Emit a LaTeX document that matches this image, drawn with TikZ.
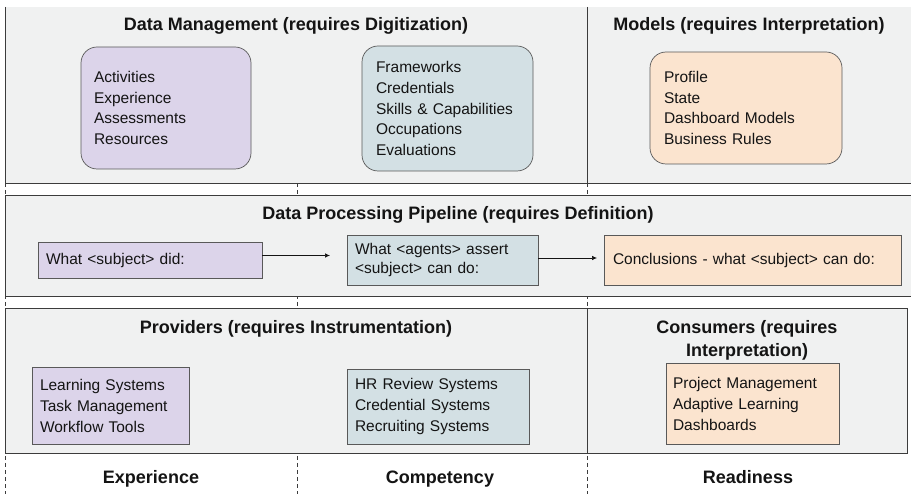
\documentclass[tikz,border=0pt]{standalone}
\usepackage{fontspec}
\setmainfont{Liberation Sans}
\usetikzlibrary{arrows.meta}

\definecolor{bandgray}{RGB}{240,241,241}
\definecolor{lilac}{RGB}{220,212,234}
\definecolor{steel}{RGB}{211,224,228}
\definecolor{peach}{RGB}{251,228,207}
\definecolor{rule}{RGB}{60,60,60}
\definecolor{ink}{RGB}{20,20,20}

\tikzset{
  band/.style={fill=bandgray, draw=none},
  bandline/.style={draw=rule, line width=0.9pt},
  guide/.style={draw=rule, line width=0.7pt, dash pattern=on 4pt off 3pt},
  title/.style={font=\fontsize{18}{23}\selectfont\bfseries, text=ink, align=center, inner sep=0pt},
  item/.style={draw=rule!85, line width=0.7pt, text=ink, align=left,
    font=\fontsize{15.5}{20.7}\selectfont, inner ysep=0pt},
  roundbox/.style={item, rounded corners=16pt},
  arr/.style={draw=ink, line width=0.7pt, -{Latex[length=5pt,width=4.5pt]}},
}

\begin{document}
\begin{tikzpicture}[x=1pt, y=-1pt]
\useasboundingbox (0,0) rectangle (911,494);
\fill[white] (0,0) rectangle (911,494);

% column guides (visible between the bands)
\draw[guide] (5,183) -- (5,494);
\draw[guide] (297,183) -- (297,494);
\draw[guide] (587,183) -- (587,494);

% top band: data management and models
\fill[band] (5,7) rectangle (911,183);
\draw[bandline] (5,7) -- (5,183) -- (911,183);
\draw[bandline] (587,7) -- (587,183);

% middle band: pipeline
\fill[band] (5,195) rectangle (911,296);
\draw[bandline] (911,195) -- (5,195) -- (5,296) -- (911,296);

% bottom band: providers and consumers
\fill[band] (5,308) rectangle (907,453);
\draw[bandline] (5,308) rectangle (907,453);
\draw[bandline] (587,308) -- (587,453);

% band titles
\node[title, anchor=base] (tdm) at (296,31) {Data Management (requires Digitization)};
\node[title, anchor=base] (tmo) at (749,31) {Models (requires Interpretation)};
\node[title, anchor=base] (tpp) at (458,220) {Data Processing Pipeline (requires Definition)};
\node[title, anchor=base] (tpr) at (296,334) {Providers (requires Instrumentation)};
% two-line title: the base anchor sits on the last line
\node[title, anchor=base] (tco) at (747,357) {Consumers (requires\\Interpretation)};

% data management stores
\node[roundbox, fill=lilac, text width=144pt, inner xsep=13pt, minimum height=122pt] (act) at (166,108)
  {Activities\\Experience\\Assessments\\Resources};
\node[roundbox, fill=steel, text width=143pt, inner xsep=14pt, minimum height=125pt] (fw) at (447.5,108.5)
  {Frameworks\\Credentials\\Skills \& Capabilities\\Occupations\\Evaluations};
\node[roundbox, fill=peach, text width=164pt, inner xsep=14pt, minimum height=112pt] (prof) at (746,108)
  {Profile\\State\\Dashboard Models\\Business Rules};

% pipeline stages
\node[item, fill=lilac, text width=208pt, inner xsep=8pt, minimum height=36pt] (did) at (150,260)
  {What <subject> did:};
\node[item, fill=steel, text width=175pt, inner xsep=8pt, minimum height=50pt,
  font=\fontsize{15.5}{19}\selectfont] (assert) at (442.5,260)
  {What <agents> assert\\<subject> can do:};
\node[item, fill=peach, text width=279pt, inner xsep=9pt, minimum height=50pt] (concl) at (752.5,260)
  {Conclusions - what <subject> can do:};

\coordinate (tip1) at (330,255.5);
\coordinate (tip2) at (597,258);
\draw[arr] (did.east |- tip1) -- (tip1);
\draw[arr] (assert.east |- tip2) -- (tip2);

% providers and consumers
\node[item, fill=lilac, text width=141pt, inner xsep=8pt, minimum height=77pt,
  font=\fontsize{15.5}{21}\selectfont] (ls) at (110.5,405.5)
  {Learning Systems\\Task Management\\Workflow Tools};
\node[item, fill=steel, text width=166pt, inner xsep=8pt, minimum height=75pt,
  font=\fontsize{15.5}{21}\selectfont] (hr) at (438,406.5)
  {HR Review Systems\\Credential Systems\\Recruiting Systems};
\node[item, fill=peach, text width=159pt, inner xsep=7pt, minimum height=81pt,
  font=\fontsize{15.5}{21}\selectfont] (pm) at (752.5,403.5)
  {Project Management\\Adaptive Learning\\Dashboards};

% column labels
\node[title, anchor=base] (lexp) at (151,483) {Experience};
\node[title, anchor=base] (lcomp) at (440,483) {Competency};
\node[title, anchor=base] (lread) at (748,483) {Readiness};
\end{tikzpicture}
\end{document}
